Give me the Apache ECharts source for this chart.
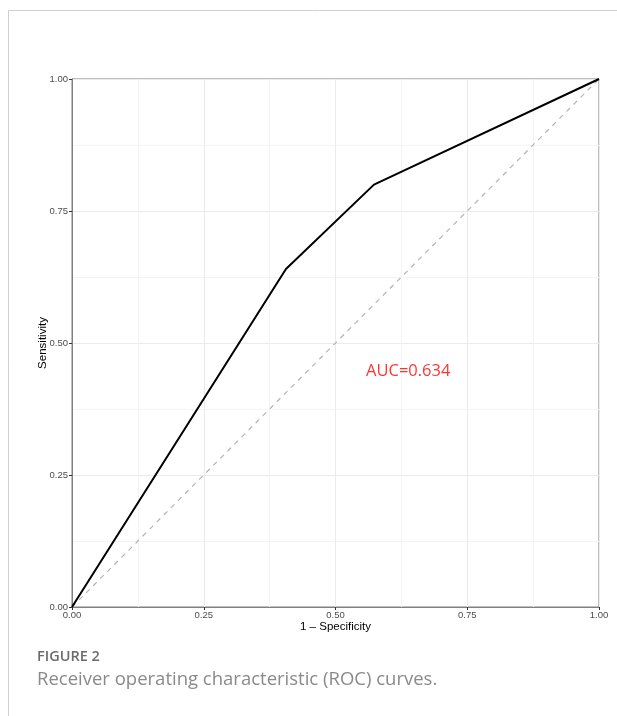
<!DOCTYPE html>
<html lang="en">
<head>
  <meta charset="UTF-8">
  <title>ROC curve</title>
  <script src="https://cdn.jsdelivr.net/npm/echarts@6/dist/echarts.min.js"></script>
  <style>
    html, body { margin: 0; padding: 0; background: #fff; }
  </style>
</head>
<body>
<div id="main" style="width:617px;height:716px;"></div>
<script>
  // ROC 曲线的点 (1 - specificity, sensitivity)
  const fpr = [0, 0.406, 0.573, 1];
  const tpr = [0, 0.64, 0.80, 1];
  // 参考对角线
  const diagX = [0, 1];
  const diagY = [0, 1];
  const aucText = 'AUC=0.634';
  const aucPos = [0.638, 0.447];

  const tickFmt = v => v.toFixed(2);

  let myChart = echarts.init(document.getElementById('main'));
  let option = {
    animation: false,
    grid: { left: 72, right: 18, top: 79, bottom: 109, show: true, borderColor: '#7f7f7f', borderWidth: 1 },
    xAxis: {
      type: 'value', min: 0, max: 1, interval: 0.25,
      name: '1 \u2013 Specificity', nameLocation: 'middle', nameGap: 14, nameMoveOverlap: false,
      nameTextStyle: { fontSize: 11.5, color: '#000', fontFamily: 'Liberation Sans' },
      axisLine: { show: true, lineStyle: { color: '#7f7f7f' } },
      axisTick: { show: true, length: 3, lineStyle: { color: '#333' } },
      axisLabel: { fontSize: 9.5, color: '#4d4d4d', margin: 3, formatter: tickFmt, fontFamily: 'Liberation Sans' },
      splitLine: { lineStyle: { color: '#ebebeb' } },
      minorTick: { show: false, splitNumber: 2 },
      minorSplitLine: { show: true, lineStyle: { color: '#f4f4f4' } }
    },
    yAxis: {
      type: 'value', min: 0, max: 1, interval: 0.25,
      name: 'Sensitivity', nameLocation: 'middle', nameGap: 23, nameMoveOverlap: false,
      nameTextStyle: { fontSize: 11.5, color: '#000', fontFamily: 'Liberation Sans' },
      axisLine: { show: true, lineStyle: { color: '#7f7f7f' } },
      axisTick: { show: true, length: 3, lineStyle: { color: '#333' } },
      axisLabel: { fontSize: 9.5, color: '#4d4d4d', margin: 4, formatter: tickFmt, fontFamily: 'Liberation Sans' },
      splitLine: { lineStyle: { color: '#ebebeb' } },
      minorTick: { show: false, splitNumber: 2 },
      minorSplitLine: { show: true, lineStyle: { color: '#f4f4f4' } }
    },
    series: [
      {
        name: 'diag', type: 'line', symbol: 'none', silent: true,
        data: diagX.map((x, i) => [x, diagY[i]]),
        lineStyle: { color: '#b3b3b3', width: 1.2, type: [5, 5] }
      },
      {
        name: 'ROC', type: 'line', symbol: 'none',
        data: fpr.map((x, i) => [x, tpr[i]]),
        lineStyle: { color: '#000', width: 2 }
      },
      {
        name: 'auc', type: 'scatter', symbolSize: 0, silent: true,
        data: [aucPos],
        label: {
          show: true, position: 'inside', formatter: aucText,
          color: '#ff0000', fontSize: 16.5, fontFamily: 'Open Sans'
        }
      }
    ],
    graphic: [
      // 外框
      { type: 'line', shape: { x1: 8.5, y1: 10.5, x2: 617, y2: 10.5 }, style: { stroke: '#d0d0d0', lineWidth: 1 } },
      { type: 'line', shape: { x1: 8.5, y1: 10.5, x2: 8.5, y2: 716 }, style: { stroke: '#d0d0d0', lineWidth: 1 } },
      // 图注
      { type: 'text', left: 37, top: 649, style: { text: 'FIGURE 2', fontSize: 14.5, fontWeight: 600, fill: '#6b6b6b', fontFamily: 'Open Sans' } },
      { type: 'text', left: 37, top: 670, style: { text: 'Receiver operating characteristic (ROC) curves.', fontSize: 18.5, fill: '#8a8a8a', fontFamily: 'Open Sans' } }
    ]
  };
  myChart.setOption(option);
</script>
</body>
</html>
